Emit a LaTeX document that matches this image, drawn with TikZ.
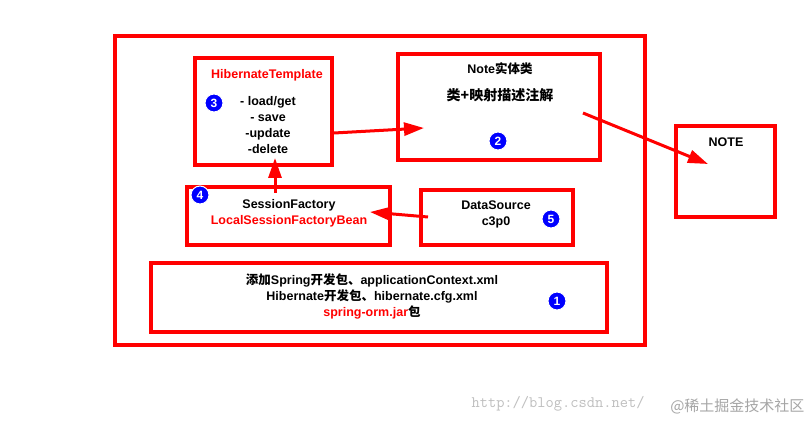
\documentclass[tikz,border=0pt]{standalone}
\usepackage{fontspec}
\setmainfont{Liberation Sans}
\newfontfamily\cjk{Noto Sans CJK SC}
\usetikzlibrary{arrows.meta}
\begin{document}
\begin{tikzpicture}[x=1pt,y=-1pt,
  box/.style={draw=red,line width=3.2pt,fill=white},
  num/.style={circle,fill=blue,draw=white,line width=1pt,inner sep=0pt,minimum size=18pt,text=white,font=\bfseries\fontsize{12}{12}\selectfont},
  arr/.style={red,line width=3pt,-{Triangle[length=20pt,width=13pt]}},
  txt/.style={font=\bfseries\fontsize{12.5}{16}\selectfont,align=center}]
\useasboundingbox (0,0) rectangle (812,422);
\fill[white] (0,0) rectangle (812,422);
\draw[box] (115,36) rectangle (645,345);
\draw[box] (195,58) rectangle (332,165);
\draw[box] (398,54) rectangle (600,160);
\draw[box] (676,126) rectangle (775,217);
\draw[box] (187,187) rectangle (390,245);
\draw[box] (421,190) rectangle (573,245);
\draw[box] (151,263) rectangle (607,332);
\node[txt,text=red] (ht) at (267,75) {HibernateTemplate};
\node[txt] (ops) at (268,125) {- load/get\\ - save\\-update\\-delete};
\node[txt] (note) at (500,69) {Note{\cjk 实体类}};
\node[txt,font=\bfseries\fontsize{14}{16}\selectfont] (map) at (500,95) {\cjk 类+映射描述注解};
\node[txt] (nt) at (726,142) {NOTE};
\node[txt] (sf) at (289,213) {SessionFactory\\\textcolor{red}{LocalSessionFactoryBean}};
\node[txt] (ds) at (496,214) {DataSource\\c3p0};
\node[txt] (lib) at (372,296) {{\cjk 添加}Spring{\cjk 开发包、}applicationContext.xml\\Hibernate{\cjk 开发包、}hibernate.cfg.xml\\\textcolor{red}{spring-orm.jar}{\cjk 包}};
\node[num] (n3) at (214,103) {3};
\node[num] (n2) at (498,141) {2};
\node[num] (n4) at (200,195) {4};
\node[num] (n5) at (551,219) {5};
\node[num] (n1) at (557,301) {1};
\coordinate (a1s) at (334,133); \coordinate (a1e) at (424,128);
\coordinate (a2s) at (275,193); \coordinate (a2e) at (275,158);
\coordinate (a3s) at (428,217); \coordinate (a3e) at (370,212);
\coordinate (a4s) at (583,113); \coordinate (a4e) at (708,164);
\draw[arr] (a1s) -- (a1e);
\draw[arr] (a2s) -- (a2e);
\draw[arr] (a3s) -- (a3e);
\draw[arr] (a4s) -- (a4e);
\node[text=gray!50,font=\ttfamily\fontsize{16}{16}\selectfont,anchor=west] (wm) at (468,404) {http://blog.csdn.net/};
\node[text=gray!70,font=\cjk\fontsize{15}{15}\selectfont,anchor=east] (wm2) at (808,406) {@稀土掘金技术社区};
\end{tikzpicture}
\end{document}
